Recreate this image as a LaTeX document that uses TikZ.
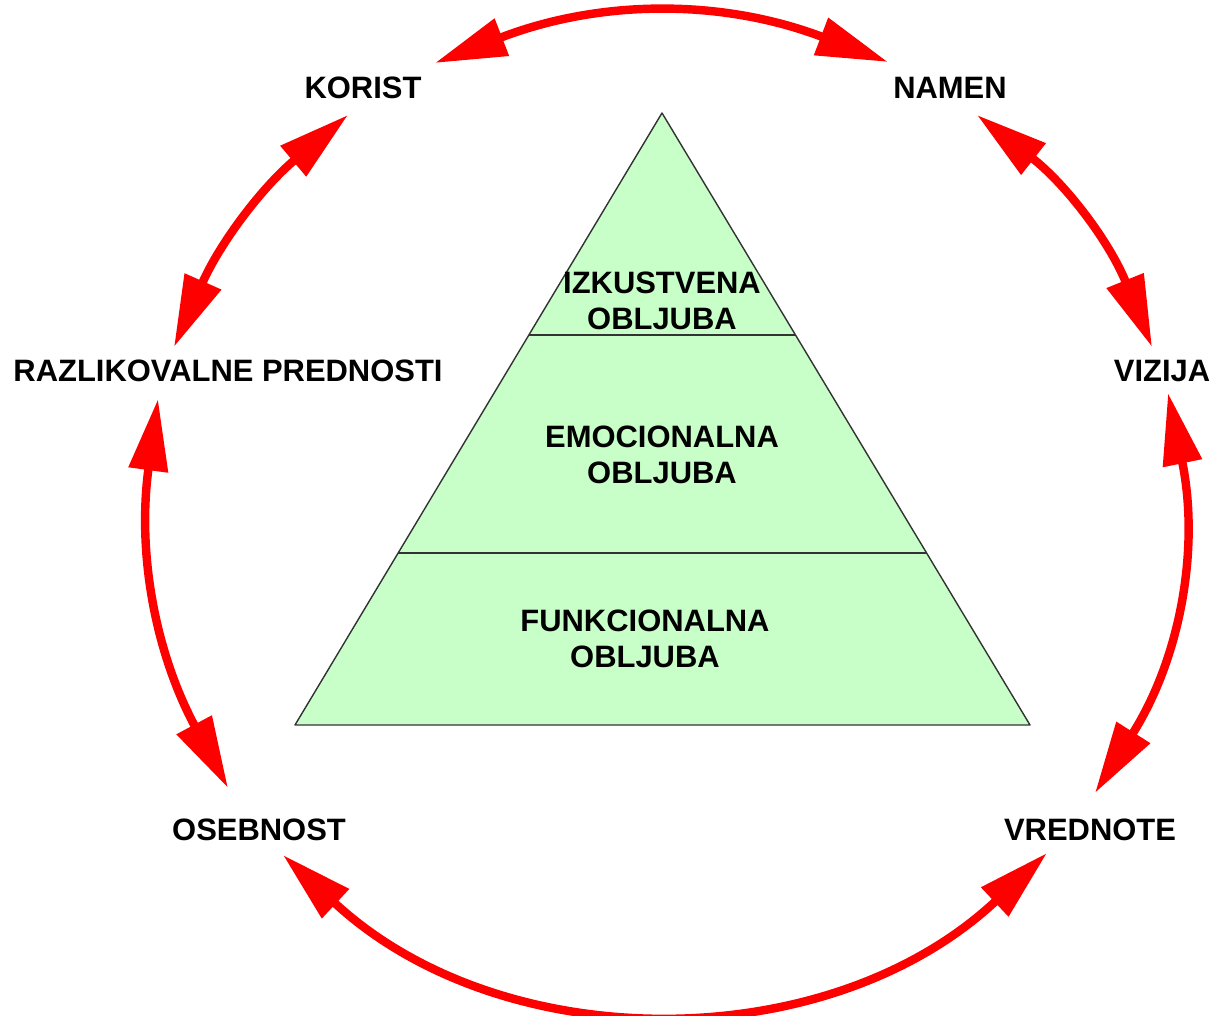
\documentclass[tikz,border=0pt]{standalone}
\usepackage{fontspec}
\setmainfont{Liberation Sans}
\usetikzlibrary{arrows.meta,calc}
\definecolor{pyrgreen}{RGB}{200,255,200}
\definecolor{arrowred}{RGB}{255,0,0}

\begin{document}
\begin{tikzpicture}[x=0.025cm, y=0.025cm]
    % Define styles
    \tikzstyle{brandtext} = [font=\bfseries\fontsize{22}{25.6}\selectfont, text centered, inner sep=0pt]
    \tikzstyle{layertext} = [font=\bfseries\fontsize{22}{25.6}\selectfont, align=center, inner sep=0pt]
    \tikzstyle{pyramid} = [fill=pyrgreen, draw=black!80, line width=1pt, line join=round]
    \tikzstyle{arrow} = [<->, >={Triangle[length=51pt, width=27pt]}, draw=arrowred, line width=6pt]

    \useasboundingbox (0,0) rectangle (1222,1016);

    % Pyramid
    \coordinate (apex) at (662,903);
    \coordinate (baseL) at (295,291);
    \coordinate (baseR) at (1030,291);
    \draw [pyramid] (apex) -- (baseR) -- (baseL) -- cycle;
    \draw [pyramid] ($(apex)!0.3627!(baseL)$) -- ($(apex)!0.3627!(baseR)$);
    \draw [pyramid] ($(apex)!0.719!(baseL)$) -- ($(apex)!0.719!(baseR)$);

    % Place nodes
    \node (izkust) [layertext] at (662,715) {IZKUSTVENA\\OBLJUBA};
    \node (emocio) [layertext] at (662,561) {EMOCIONALNA\\OBLJUBA};
    \node (funkcio) [layertext] at (645,377) {FUNKCIONALNA\\OBLJUBA};

    \node (korist) [brandtext] at (363,928) {KORIST};
    \node (namen) [brandtext] at (950,928) {NAMEN};
    \node (razlik) [brandtext] at (228,645) {RAZLIKOVALNE PREDNOSTI};
    \node (vizija) [brandtext] at (1162,645) {VIZIJA};
    \node (osebnost) [brandtext] at (259,186) {OSEBNOST};
    \node (vrednote) [brandtext] at (1090,186) {VREDNOTE};

    % Draw arrows round the circle
    \draw [arrow, bend left=21] ($(korist)+(72,25)$) to ($(namen)+(-62,26)$);
    \draw [arrow, bend left=15] ($(namen)+(27,-27)$) to ($(vizija)+(-10,24)$);
    \draw [arrow, bend left=22] ($(vizija)+(6,-22)$) to ($(vrednote)+(5,37)$);
    \draw [arrow, bend left=43] ($(vrednote)+(-43,-23)$) to ($(osebnost)+(24,-25)$);
    \draw [arrow, bend left=18] ($(osebnost)+(-31,42)$) to ($(razlik)+(-70,-28)$);
    \draw [arrow, bend left=13] ($(razlik)+(-54,24)$) to ($(korist)+(-15,-27)$);
\end{tikzpicture}
\end{document}
